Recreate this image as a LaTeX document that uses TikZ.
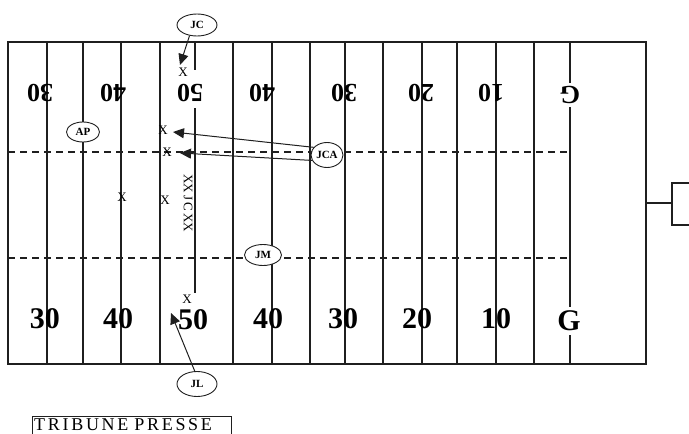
\documentclass[tikz,border=0pt]{standalone}
\usepackage{fontspec}
\setmainfont{Liberation Serif}
\usepackage{xcolor}
\usepackage{tikz}
\usetikzlibrary{arrows.meta,shapes.geometric}
\definecolor{color_trait}{rgb}{0.12,0.12,0.12}
\definecolor{color_fond}{rgb}{1,1,1}
\newfontfamily\tribunefont[LetterSpace=15]{Liberation Serif}

\tikzset{
	chiffre/.style={font=\fontsize{30}{30}\selectfont\bfseries, inner sep=0pt},
	chiffrehaut/.style={font=\fontsize{26}{26}\selectfont\bfseries, inner sep=0pt, rotate=180},
	arbitre/.style={ellipse, draw=color_trait, line width=0.9pt, fill=color_fond, inner sep=0pt, font=\fontsize{11}{11}\selectfont\bfseries},
	croix/.style={font=\fontsize{13}{13}\selectfont, inner sep=0pt},
	fleche/.style={draw=color_trait, line width=1pt, -{Triangle[length=11pt,width=10pt]}},
	pointille/.style={color_trait, line width=1.2pt, dash pattern=on 7pt off 5pt}
}

\begin{document}
\begin{tikzpicture}[x=1pt,y=-1pt]
			\useasboundingbox (0,0) rectangle (689,434);
			% Terrain
			\draw[color_trait, line width=1.3pt] (8,42) rectangle (646,364);
			\foreach \x in {47,83,121,160,233,272,310,345,383,422,457,496,534,570}
				\draw[color_trait, line width=1.2pt] (\x,42) -- (\x,364);
			% Ligne des 50 (coupée)
			\draw[color_trait, line width=1.2pt] (195,42) -- (195,70) (195,108) -- (195,293);
			% Lignes pointillées
			\draw[pointille] (8,152) -- (570,152);
			\draw[pointille] (8,258) -- (570,258);
			
			% Chiffres en haut (à l'envers)
			\node[chiffrehaut] (h30a) at (40,93) {30};
			\node[chiffrehaut] (h40a) at (113,93) {40};
			\node[chiffrehaut] (h50) at (190,93) {50};
			\node[chiffrehaut] (h40b) at (262,93) {40};
			\node[chiffrehaut] (h30b) at (344,93) {30};
			\node[chiffrehaut] (h20) at (421,93) {20};
			\node[chiffrehaut] (h10) at (491,93) {10};
			\node[chiffrehaut, fill=color_fond, inner sep=3pt] (hg) at (570,95) {G};
			
			% Chiffres en bas
			\node[chiffre] (b30a) at (45,319) {30};
			\node[chiffre] (b40a) at (118,319) {40};
			\node[chiffre] (b50) at (193,320) {50};
			\node[chiffre] (b40b) at (268,319) {40};
			\node[chiffre] (b30b) at (343,319) {30};
			\node[chiffre] (b20) at (417,319) {20};
			\node[chiffre] (b10) at (496,319) {10};
			\node[chiffre, fill=color_fond, inner sep=4pt] (bg) at (569,321) {G};
			
			% Croix
			\node[croix] (x1) at (183,72) {X};
			\node[croix] (x2) at (163,130) {X};
			\node[croix] (x3) at (167,152) {X};
			\node[croix] (x4) at (122,197) {X};
			\node[croix] (x5) at (165,200) {X};
			\node[croix] (x6) at (187,299) {X};
			\node[croix, rotate=-90] (xcol) at (188,203) {XX\,J\,C\,XX};
			
			% Arbitres
			\node[arbitre, minimum width=40pt, minimum height=22pt] (jc) at (197,25) {JC};
			\node[arbitre, minimum width=33pt, minimum height=20pt] (ap) at (83,132) {AP};
			\node[arbitre, minimum width=32pt, minimum height=25pt] (jca) at (327,155) {JCA};
			\node[arbitre, minimum width=37pt, minimum height=21pt] (jm) at (263,255) {JM};
			\node[arbitre, minimum width=40pt, minimum height=25pt] (jl) at (197,384) {JL};
			
			% Flèches
			\coordinate (cjc) at (180,65);
			\coordinate (cjca1) at (173,132);
			\coordinate (cjca2) at (180,153);
			\coordinate (cjl) at (171,313);
			\draw[fleche] (jc.235) -- (cjc);
			\draw[fleche] (jca.150) -- (cjca1);
			\draw[fleche] (jca.200) -- (cjca2);
			\draw[fleche] (jl.100) -- (cjl);
			
			% Potence à droite
			\draw[color_trait, line width=1.2pt] (646,203) -- (672,203);
			\draw[color_trait, line width=1.2pt] (689,183) -- (672,183) -- (672,225) -- (689,225);
			
			% Tribune (bas du cadre hors image)
			\node[anchor=north west, text width=195pt, align=left, inner xsep=2pt, inner ysep=2pt, text height=12pt, text depth=2pt, font=\tribunefont\fontsize{18}{18}\selectfont] (tribune) at (32,416) {TRIBUNE PRESSE};
			\draw[color_trait, line width=1pt] ([yshift=-4pt]tribune.south west) |- (tribune.north east) -- ([yshift=-4pt]tribune.south east);
		\end{tikzpicture}
\end{document}
